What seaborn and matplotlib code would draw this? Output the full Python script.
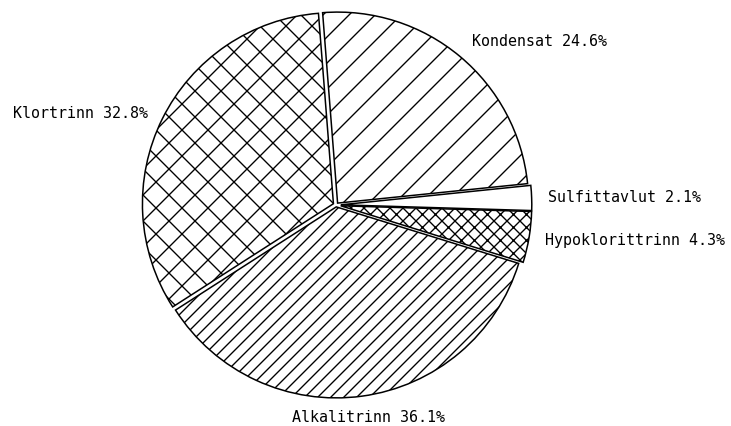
import matplotlib
matplotlib.use("Agg")
import matplotlib.pyplot as plt
import seaborn as sns

# ---- data ----
categories = ["Kondensat", "Sulfittavlut", "Hypoklorittrinn", "Alkalitrinn", "Klortrinn"]
shares = [24.6, 2.1, 4.3, 36.1, 32.8]
hatches = ["/", "", "xx", "//", "x"]

# ---- layout ----
W, H = 731, 426
DPI = 78
center = (336, H - 205)
radius = 191
explode_frac = [0.013, 0.025, 0.025, 0.01, 0.015]
explode = [f * radius for f in explode_frac]  # pie's explode is in data units
label_pos = [(472, H - 42), (548, H - 197), (545, H - 240),
             (292, H - 417), (13, H - 113)]

sns.set_theme(style="white")
plt.rcParams["font.family"] = ["DejaVu Sans Mono"]
plt.rcParams["hatch.linewidth"] = 1.25
plt.rcParams["hatch.color"] = "black"

fig = plt.figure(figsize=(W / DPI, H / DPI), dpi=DPI)
ax = fig.add_axes([0, 0, 1, 1])
wedges, _ = ax.pie(shares, explode=explode, startangle=94.5, counterclock=False,
                   center=center, radius=radius, colors=["white"] * len(shares),
                   wedgeprops=dict(edgecolor="black", linewidth=1.4))
for w, h in zip(wedges, hatches):
    w.set_hatch(h)

for (x, y), name, v in zip(label_pos, categories, shares):
    ax.text(x, y, f"{name} {v:.1f}%", ha="left", va="center", fontsize=13.8, color="black")

ax.set_xlim(0, W)
ax.set_ylim(0, H)
ax.set_aspect("equal")
ax.axis("off")
fig.savefig("out.png", dpi=DPI, facecolor="white")
